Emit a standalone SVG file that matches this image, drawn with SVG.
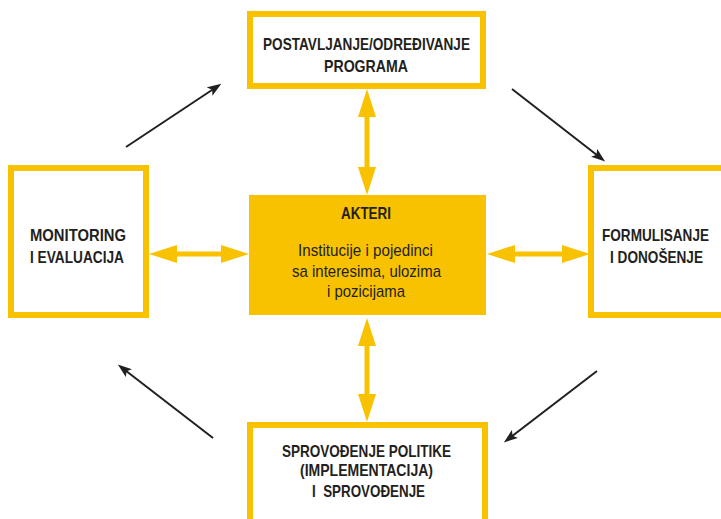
<svg xmlns="http://www.w3.org/2000/svg" width="721" height="519" viewBox="0 0 721 519">
<defs>
<style>
.box{fill:#fff;stroke:#F9C200;stroke-width:6}
.core{fill:#F9C200}
.t{font-family:"Liberation Sans",Arial,sans-serif;font-weight:bold;font-size:16.5px;fill:#231F20;text-anchor:middle}
.r{font-family:"Liberation Sans",Arial,sans-serif;font-size:17px;fill:#231F20;text-anchor:middle}
.ya{stroke:#F9C200;stroke-width:5;fill:none;marker-start:url(#yh);marker-end:url(#yh)}
.ba{stroke:#231F20;stroke-width:2;fill:none;marker-end:url(#bh)}
</style>
<marker id="yh" markerUnits="userSpaceOnUse" markerWidth="28" markerHeight="18" viewBox="0 0 28 18" refX="18" refY="9" orient="auto-start-reverse">
<path d="M0,0 L28,9 L0,18 z" fill="#F9C200"/>
</marker>
<marker id="bh" markerUnits="userSpaceOnUse" markerWidth="14" markerHeight="10" viewBox="0 0 14 10" refX="10" refY="5" orient="auto">
<path d="M0,0 L14,5 L0,10 L3,5 z" fill="#231F20"/>
</marker>
</defs>
<g id="connectors">
<line class="ya" x1="367" y1="99" x2="367" y2="185"/>
<line class="ya" x1="367" y1="328" x2="367" y2="412"/>
<line class="ya" x1="159" y1="254" x2="239" y2="254"/>
<line class="ya" x1="497" y1="254" x2="580" y2="254"/>
<line class="ba" x1="126" y1="147" x2="218" y2="86"/>
<line class="ba" x1="512" y1="89" x2="602" y2="159"/>
<line class="ba" x1="213" y1="438" x2="121" y2="367"/>
<line class="ba" x1="597" y1="371" x2="507" y2="440"/>
</g>
<g id="postavljanje">
<rect class="box" x="250" y="14" width="233" height="72"/>
<text class="t" x="366.5" y="50" textLength="207" lengthAdjust="spacingAndGlyphs">POSTAVLJANJE/ODREĐIVANJE</text>
<text class="t" x="366" y="72" textLength="84" lengthAdjust="spacingAndGlyphs">PROGRAMA</text>
</g>
<g id="monitoring">
<rect class="box" x="11" y="168" width="135" height="147"/>
<text class="t" x="78" y="241" textLength="96" lengthAdjust="spacingAndGlyphs">MONITORING</text>
<text class="t" x="77" y="263" textLength="94" lengthAdjust="spacingAndGlyphs">I EVALUACIJA</text>
</g>
<g id="akteri">
<rect class="core" x="249" y="195" width="237" height="120"/>
<text class="t" x="366" y="219" textLength="50" lengthAdjust="spacingAndGlyphs">AKTERI</text>
<text class="r" x="365.5" y="256" textLength="135" lengthAdjust="spacingAndGlyphs">Institucije i pojedinci</text>
<text class="r" x="366.5" y="277" textLength="149" lengthAdjust="spacingAndGlyphs">sa interesima, ulozima</text>
<text class="r" x="366" y="297" textLength="78" lengthAdjust="spacingAndGlyphs">i pozicijama</text>
</g>
<g id="formulisanje">
<rect class="box" x="591" y="168" width="140" height="147"/>
<text class="t" x="655.5" y="241" textLength="107" lengthAdjust="spacingAndGlyphs">FORMULISANJE</text>
<text class="t" x="656.5" y="263" textLength="93" lengthAdjust="spacingAndGlyphs">I DONOŠENJE</text>
</g>
<g id="sprovodjenje">
<rect class="box" x="250" y="425" width="235" height="110"/>
<text class="t" x="366.5" y="457" textLength="169" lengthAdjust="spacingAndGlyphs">SPROVOĐENJE POLITIKE</text>
<text class="t" x="366.5" y="476" textLength="133" lengthAdjust="spacingAndGlyphs">(IMPLEMENTACIJA)</text>
<text class="t" x="368.5" y="497" textLength="113" lengthAdjust="spacingAndGlyphs" xml:space="preserve">I  SPROVOĐENJE</text>
</g>
</svg>
